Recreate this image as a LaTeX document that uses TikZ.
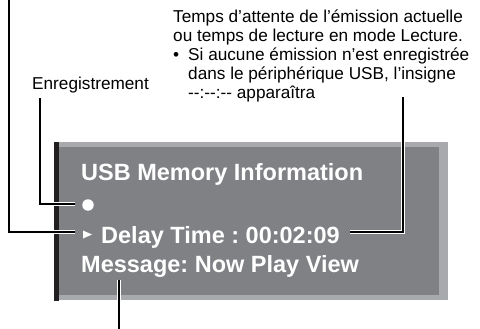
\documentclass[tikz,border=0pt]{standalone}
\usepackage{fontspec}
\setmainfont{Liberation Sans}
\frenchspacing
\definecolor{scrdark}{RGB}{128,129,133}
\definecolor{scrlight}{RGB}{168,169,173}
\definecolor{scrbar}{RGB}{35,31,32}
\begin{document}
\begin{tikzpicture}[x=1pt,y=-1pt,
  lbl/.style={inner sep=0, anchor=base west, font=\fontsize{17.2}{19}\selectfont},
  scr/.style={inner sep=0, anchor=base west, text=white, font=\fontsize{23.5}{27}\selectfont\bfseries},
  lead/.style={line width=1.3pt, draw=black},
  halo/.style={line width=4pt, draw=white}]
\useasboundingbox (0,0) rectangle (480,329);
% screen
\fill[scrlight] (54,142) rectangle (448,300);
\fill[scrdark] (59,147) rectangle (439,295);
\fill[scrbar] (54,142) rectangle (59,301);
% screen texts
\node[scr] (title) at (81,180) {USB Memory Information};
\node[circle, fill=white, minimum size=11.5pt, inner sep=0] (rec) at (88,205) {};
\fill[white] (83,230.5) -- (92,234.5) -- (83,238.5) -- cycle;
\node[scr] (delay) at (101,243) {Delay Time : 00:02:09};
\node[scr] (msg) at (81,272) {Message: Now Play View};
% labels
\node[lbl] (enr) at (32,90) {Enregistrement};
\node[lbl] (t1) at (173,23) {Temps d’attente de l’émission actuelle};
\node[lbl] (t2) at (173,42) {ou temps de lecture en mode Lecture.};
\node[lbl] (tb) at (173,61) {•};
\node[lbl] (t3) at (188,61) {Si aucune émission n’est enregistrée};
\node[lbl] (t4) at (188,80) {dans le périphérique USB, l’insigne};
\node[lbl] (t5) at (188,98.5) {-{}-:-{}-:-{}- apparaîtra};
% connectors
\coordinate (aTop) at (9,0);
\coordinate (aEnd) at (75,232);
\coordinate (bTop) at (40,98);
\coordinate (bEnd) at (75,204);
\coordinate (cTop) at (403,97);
\coordinate (cEnd) at (350,232);
\coordinate (dTop) at (119,280);
\coordinate (dEnd) at (119,329);
\draw[halo] (aTop) |- (aEnd);
\draw[lead] (aTop) |- (aEnd);
\draw[halo] (bTop) |- (bEnd);
\draw[lead] (bTop) |- (bEnd);
\draw[halo] (cTop) |- (cEnd);
\draw[lead] (cTop) |- (cEnd);
\draw[halo] (dTop) -- (dEnd);
\draw[lead] (dTop) -- (dEnd);
\end{tikzpicture}
\end{document}
